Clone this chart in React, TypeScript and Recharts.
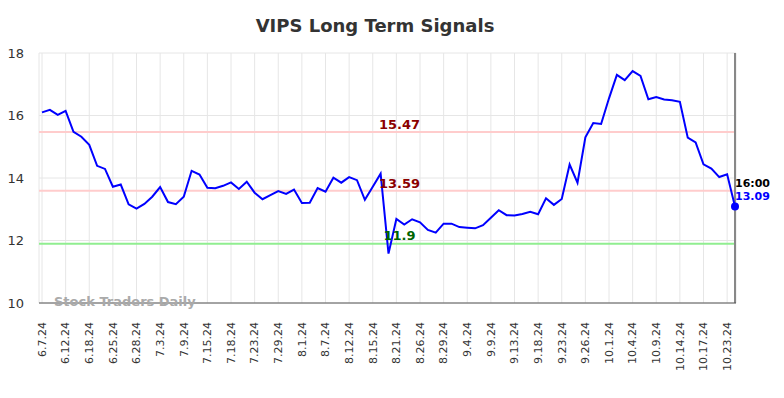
import { LineChart, Line, XAxis, YAxis, CartesianGrid, ReferenceLine } from "recharts";

const tickLabels = [
  "6.7.24", "6.12.24", "6.18.24", "6.25.24", "6.28.24", "7.3.24", "7.9.24", "7.15.24",
  "7.18.24", "7.23.24", "7.29.24", "8.1.24", "8.7.24", "8.12.24", "8.15.24", "8.21.24",
  "8.26.24", "8.29.24", "9.4.24", "9.9.24", "9.13.24", "9.18.24", "9.23.24", "9.26.24",
  "10.1.24", "10.4.24", "10.9.24", "10.14.24", "10.17.24", "10.23.24",
];

const prices = [
  16.10, 16.18, 16.02, 16.15, 15.48, 15.32, 15.06, 14.39, 14.29, 13.72,
  13.79, 13.16, 13.02, 13.17, 13.40, 13.71, 13.23, 13.16, 13.40, 14.23,
  14.11, 13.69, 13.67, 13.75, 13.86, 13.65, 13.88, 13.53, 13.32, 13.45,
  13.58, 13.49, 13.63, 13.20, 13.21, 13.68, 13.56, 14.01, 13.85, 14.03,
  13.93, 13.30, 13.72, 14.14, 11.58, 12.69, 12.51, 12.68, 12.58, 12.34,
  12.25, 12.54, 12.54, 12.43, 12.41, 12.39, 12.49, 12.73, 12.97, 12.81,
  12.80, 12.85, 12.92, 12.84, 13.35, 13.14, 13.33, 14.43, 13.85, 15.30,
  15.76, 15.73, 16.55, 17.30, 17.13, 17.42, 17.27, 16.52, 16.59, 16.51,
  16.49, 16.44, 15.29, 15.14, 14.44, 14.30, 14.03, 14.12, 13.09,
];

const yTicks = [10, 12, 14, 16, 18];

// signal levels
const upperSignal = 15.47;
const middleSignal = 13.59;
const lowerSignal = 11.9;

const lastTime = "16:00";

const data = prices.map((v, i) => ({ i, v }));
const xTicks = tickLabels.map((_, k) => k * 3);
const lastIndex = prices.length - 1;

const font = "'DejaVu Sans', sans-serif";

function DateTick({ x, y, payload }: any) {
  const label = tickLabels[payload.value / 3];
  return (
    <text
      x={0}
      y={0}
      transform={`translate(${x},${y + 19}) rotate(-90)`}
      textAnchor="end"
      dy="0.35em"
      fontSize={11}
      fill="#333"
      fontFamily={font}
    >
      {label}
    </text>
  );
}

function LastDot(props: any) {
  const { cx, cy, index } = props;
  if (index !== lastIndex) return <g key={`d${index}`} />;
  return (
    <g key={`d${index}`}>
      <circle cx={cx} cy={cy} r={4} fill="#0000ff" />
      <text x={cx} y={cy - 23} dy="0.35em" fontSize={11} fontWeight="bold" fill="#000" fontFamily={font}>
        {lastTime}
      </text>
      <text x={cx} y={cy - 10} dy="0.35em" fontSize={11} fontWeight="bold" fill="#0000ff" fontFamily={font}>
        {prices[lastIndex].toFixed(2)}
      </text>
    </g>
  );
}

export default function App() {
  return (
    <div style={{ position: "absolute", left: 0, top: 0, width: 784, height: 398, fontFamily: font }}>
      <div
        style={{
          position: "absolute",
          left: 0,
          width: 750,
          top: 15,
          textAlign: "center",
          fontSize: 18,
          fontWeight: "bold",
          color: "#333",
        }}
      >
        VIPS Long Term Signals
      </div>
      <LineChart width={784} height={398} data={data} margin={{ top: 53, right: 48, left: 0, bottom: 0 }}>
        <CartesianGrid stroke="#e6e6e6" />
        <XAxis
          dataKey="i"
          type="number"
          domain={[0, lastIndex]}
          ticks={xTicks}
          interval={0}
          height={95}
          padding={{ left: 3, right: 1 }}
          tickSize={0}
          tickMargin={0}
          tickLine={false}
          axisLine={{ stroke: "#555" }}
          tick={<DateTick />}
        />
        <YAxis
          domain={[10, 18]}
          ticks={yTicks}
          width={39}
          tickLine={false}
          axisLine={false}
          tickSize={0}
          tickMargin={15}
          tick={{ fontSize: 13, fill: "#333", fontFamily: font }}
        />
        <ReferenceLine
          y={upperSignal}
          stroke="#ffcccc"
          strokeWidth={2}
          label={{ value: upperSignal.toFixed(2), position: "center", dx: 12, dy: -8, fill: "#8b0000", fontWeight: "bold", fontSize: 13, fontFamily: font }}
        />
        <ReferenceLine
          y={middleSignal}
          stroke="#ffcccc"
          strokeWidth={2}
          label={{ value: middleSignal.toFixed(2), position: "center", dx: 12, dy: -7, fill: "#8b0000", fontWeight: "bold", fontSize: 13, fontFamily: font }}
        />
        <ReferenceLine
          y={lowerSignal}
          stroke="#90ee90"
          strokeWidth={2}
          label={{ value: String(lowerSignal), position: "center", dx: 12, dy: -8, fill: "#006400", fontWeight: "bold", fontSize: 13, fontFamily: font }}
        />
        <ReferenceLine x={lastIndex} stroke="#888" strokeWidth={2} />
        <Line
          type="linear"
          dataKey="v"
          stroke="#0000ff"
          strokeWidth={2}
          dot={LastDot}
          activeDot={false}
          isAnimationActive={false}
        />
      </LineChart>
      <div
        style={{
          position: "absolute",
          left: 54,
          top: 294,
          fontSize: 13,
          fontWeight: "bold",
          color: "#aaa",
          pointerEvents: "none",
        }}
      >
        Stock Traders Daily
      </div>
    </div>
  );
}
